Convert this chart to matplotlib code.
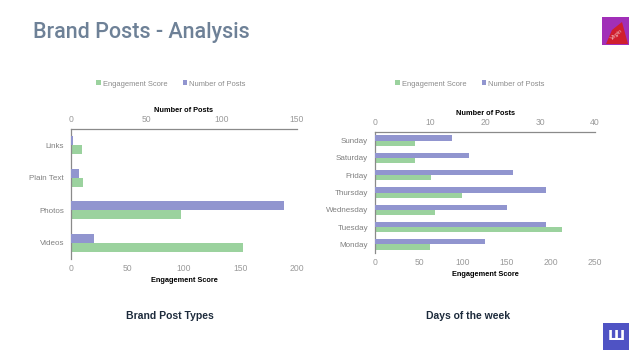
import matplotlib
matplotlib.use("Agg")
import matplotlib.pyplot as plt
import numpy as np
from matplotlib.patches import Rectangle, Polygon

# left chart - brand post types
types = ["Links", "Plain Text", "Photos", "Videos"]
types_eng = [9.5, 10.5, 97, 152]
types_posts = [1.5, 5.5, 141.5, 15.5]

# right chart - days of the week
days = ["Sunday", "Saturday", "Friday", "Thursday", "Wednesday", "Tuesday", "Monday"]
days_eng = [45, 46, 64, 99, 68, 212, 62]
days_posts = [14, 17, 25, 31, 24, 31, 20]

green = "#9bd29e"
purple = "#9195cf"
spine_col = "#8a8a8a"
tick_col = "#9a9a9a"
plt.rcParams['font.family'] = ["Liberation Sans", "DejaVu Sans"]

fig = plt.figure(figsize=(6.38, 3.59), dpi=100)
W, H = 638.0, 359.0

def bar_chart(rect, cats, eng, posts, eng_max, posts_max, eng_ticks, posts_ticks, bh, legend_x):
    ax = fig.add_axes(rect)
    ax2 = ax.twiny()
    y = np.arange(len(cats))
    ax.barh(y + bh / 2, eng, height=bh, color=green, label="Engagement Score")
    ax2.barh(y - bh / 2, posts, height=bh, color=purple, label="Number of Posts")
    ax.set_ylim(len(cats) - 0.5, -0.5)
    ax.set_xlim(0, eng_max)
    ax2.set_xlim(0, posts_max)
    ax.set_xticks(eng_ticks)
    ax2.set_xticks(posts_ticks)
    ax.set_yticks(y)
    ax.set_yticklabels(cats)
    for a in (ax, ax2):
        for s in a.spines.values():
            s.set_visible(False)
        a.tick_params(length=0, labelsize=6.2, labelcolor=tick_col, pad=3.5)
    ax.spines["left"].set_visible(True)
    ax.spines["left"].set_color(spine_col)
    ax.spines["left"].set_linewidth(0.9)
    ax2.spines["top"].set_visible(True)
    ax2.spines["top"].set_color(spine_col)
    ax2.spines["top"].set_linewidth(0.9)
    ax.tick_params(axis="y", labelsize=5.8, labelcolor="#808080", pad=5)
    ax.set_xlabel("Engagement Score", fontsize=5.3, fontweight="bold", labelpad=3)
    ax2.set_xlabel("Number of Posts", fontsize=5.3, fontweight="bold", labelpad=2)
    h1, l1 = ax.get_legend_handles_labels()
    h2, l2 = ax2.get_legend_handles_labels()
    fig.legend(h1 + h2, l1 + l2, loc="center", bbox_to_anchor=(legend_x / W, 1 - 84 / H),
               ncol=2, frameon=False, fontsize=5.4, labelcolor="#8a8a8a",
               handlelength=0.6, handleheight=0.6, handletextpad=0.3, columnspacing=2.0)
    return ax

bar_chart([71 / W, 1 - 259 / H, 226 / W, 130 / H], types, types_eng, types_posts,
          200, 150, [0, 50, 100, 150, 200], [0, 50, 100, 150], 0.28, 171)
bar_chart([375 / W, 1 - 253 / H, 220 / W, 121 / H], days, days_eng, days_posts,
          250, 40, [0, 50, 100, 150, 200, 250], [0, 10, 20, 30, 40], 0.3, 470)

fig.text(33 / W, 1 - 32.5 / H, "Brand Posts - Analysis", fontsize=15.5, color="#6e8197",
         va="center", ha="left", family=["Roboto", "DejaVu Sans"], fontweight="medium")
fig.text(170 / W, 1 - 316 / H, "Brand Post Types", fontsize=7.5, fontweight="bold",
         color="#1d2b3c", ha="center", va="center")
fig.text(468 / W, 1 - 316 / H, "Days of the week", fontsize=7.5, fontweight="bold",
         color="#1d2b3c", ha="center", va="center")

# top-right logo
fig.patches.append(Rectangle((602 / W, 1 - 45 / H), 27 / W, 28 / H, transform=fig.transFigure,
                             facecolor="#a12fb8", edgecolor="none"))
fig.patches.append(Polygon([(606 / W, 1 - 44 / H), (612 / W, 1 - 30 / H), (622 / W, 1 - 22 / H),
                            (628 / W, 1 - 44 / H)], closed=True, transform=fig.transFigure,
                           facecolor="#d01f2e", edgecolor="none"))
fig.text(616 / W, 1 - 35 / H, "Virgin", fontsize=4, color="#f2d0d0", ha="center", va="center",
         rotation=40, style="italic")

# bottom-right logo
fig.patches.append(Rectangle((603 / W, 1 - 350 / H), 26 / W, 27 / H, transform=fig.transFigure,
                             facecolor="#4f53c4", edgecolor="none"))
fig.text(616 / W, 1 - 336.5 / H, "Ш", fontsize=10, color="white", ha="center", va="center",
         fontweight="bold", family=["DejaVu Sans"])

fig.savefig("out.png", dpi=100)
